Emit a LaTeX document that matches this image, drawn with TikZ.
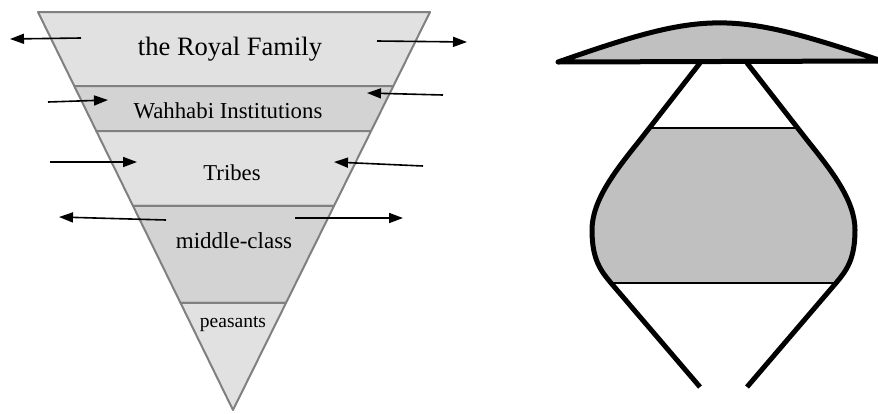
\documentclass[tikz,border=0pt]{standalone}
\usepackage{fontspec}
\setmainfont{Liberation Serif}
\usetikzlibrary{arrows.meta,calc}
\definecolor{bandlight}{HTML}{E1E1E1}
\definecolor{banddark}{HTML}{D3D3D3}
\definecolor{bandline}{HTML}{808080}
\definecolor{hatgray}{HTML}{C0C0C0}
\begin{document}
\begin{tikzpicture}[x=1pt,y=-1pt,
  band/.style={draw=bandline,line width=2pt,line join=round},
  lightband/.style={band,fill=bandlight},
  darkband/.style={band,fill=banddark},
  label/.style={anchor=base,inner sep=0pt},
  flow/.style={line width=1.6pt,-{Triangle[length=14pt,width=10pt]}},
  thickline/.style={line width=5pt,line join=round},
  thinline/.style={line width=2pt}]
\useasboundingbox[fill=white] (0,0) rectangle (878,413);
% ---- left: inverted pyramid ----
\coordinate (TL) at (38,12);
\coordinate (TR) at (430,12);
\coordinate (AP) at (233,410);
\coordinate (L1) at ($(TL)!0.186!(AP)$); \coordinate (R1) at ($(TR)!0.186!(AP)$);
\coordinate (L2) at ($(TL)!0.299!(AP)$); \coordinate (R2) at ($(TR)!0.299!(AP)$);
\coordinate (L3) at ($(TL)!0.487!(AP)$); \coordinate (R3) at ($(TR)!0.487!(AP)$);
\coordinate (L4) at ($(TL)!0.731!(AP)$); \coordinate (R4) at ($(TR)!0.731!(AP)$);
\path[lightband] (TL) -- (TR) -- (R1) -- (L1) -- cycle;
\path[darkband]  (L1) -- (R1) -- (R2) -- (L2) -- cycle;
\path[lightband] (L2) -- (R2) -- (R3) -- (L3) -- cycle;
\path[darkband]  (L3) -- (R3) -- (R4) -- (L4) -- cycle;
\path[lightband] (L4) -- (R4) -- (AP) -- cycle;
\node[label,font=\fontsize{26.5}{30}\selectfont] (royal) at (230,55) {the Royal Family};
\node[label,font=\fontsize{22.8}{26}\selectfont] (wahhabi) at (228,118) {Wahhabi Institutions};
\node[label,font=\fontsize{22.7}{26}\selectfont] (tribes) at (232,180) {Tribes};
\node[label,font=\fontsize{23}{26}\selectfont] (middle) at (234,248) {middle-class};
\node[label,font=\fontsize{19.5}{22}\selectfont] (peasants) at (233,327) {peasants};
% arrows
\coordinate (a1s) at (81,38);   \coordinate (a1e) at (10,39);
\coordinate (a2s) at (377,41);  \coordinate (a2e) at (467,42);
\coordinate (a3s) at (48,102);  \coordinate (a3e) at (108,100);
\coordinate (a4s) at (443,95);  \coordinate (a4e) at (367,93);
\coordinate (a5s) at (50,162);  \coordinate (a5e) at (137,162);
\coordinate (a6s) at (423,166); \coordinate (a6e) at (334,162);
\coordinate (a7s) at (166,220); \coordinate (a7e) at (59,217);
\coordinate (a8s) at (295,218); \coordinate (a8e) at (403,218);
\foreach \i in {1,...,8} {\draw[flow] (a\i s) -- (a\i e);}
% ---- right: hat and bulb ----
\begin{scope}
  \clip (0,128) rectangle (878,283);
  \fill[hatgray] (700,63) -- (640,140) .. controls (616,170) and (592,200) .. (592,230)
     .. controls (592,260) and (601,271) .. (611,283) -- (700,387)
     -- (747,387) -- (836,283) .. controls (846,271) and (855,260) .. (855,230)
     .. controls (855,200) and (831,170) .. (807,140) -- (747,63) -- cycle;
\end{scope}
\draw[thinline] (649,128) -- (798,128);
\draw[thinline] (611,283) -- (836,283);
\draw[thickline] (700,63) -- (640,140) .. controls (616,170) and (592,200) .. (592,230)
     .. controls (592,260) and (601,271) .. (611,283) -- (700,387);
\draw[thickline] (747,63) -- (807,140) .. controls (831,170) and (855,200) .. (855,230)
     .. controls (855,260) and (846,271) .. (836,283) -- (747,387);
\draw[thickline,fill=hatgray] (558,62) .. controls (707,10) and (730,10) .. (882,61) -- cycle;
\end{tikzpicture}
\end{document}
